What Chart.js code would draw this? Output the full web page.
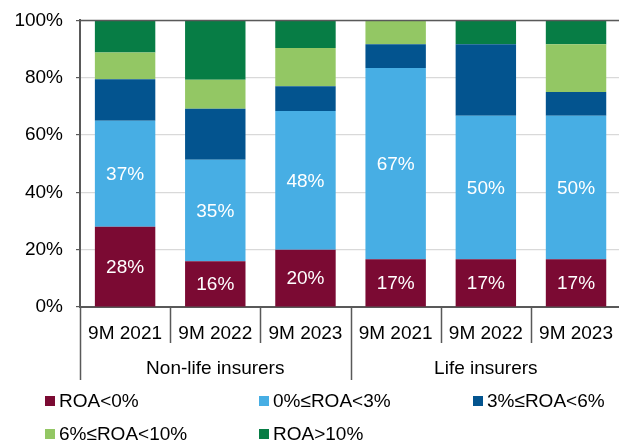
<!DOCTYPE html>
<html lang="en">
<head>
  <meta charset="UTF-8">
  <title>ROA distribution of insurers</title>
  <script src="https://cdn.jsdelivr.net/npm/chart.js"></script>
  <style>
    html, body {
      margin: 0;
      padding: 0;
      overflow: hidden;
      background: #fff;
      font-family: "Liberation Sans", Arial, sans-serif;
    }
    #wrap {
      position: relative;
      width: 628px;
      height: 442px;
    }
    #chartBox {
      position: absolute;
      left: 0;
      top: -4px;
      width: 628px;
      height: 389px;
    }
    #legend {
      position: absolute;
      left: 45px;
      top: 384px;
      display: grid;
      grid-template-columns: 214px 214px auto;
      grid-auto-rows: 33px;
      font-size: 19px;
      line-height: 1;
      color: #000;
    }
    #legend span.item {
      display: flex;
      align-items: center;
      white-space: nowrap;
    }
    #legend span.box {
      display: inline-block;
      width: 10px;
      height: 10px;
      margin-right: 4px;
    }
  </style>
</head>

<body>
  <div id="wrap">
    <div id="chartBox"><canvas id="roaChart"></canvas></div>
    <div id="legend"></div>
  </div>

  <script>
    // categories and groups
    const periods = ['9M 2021', '9M 2022', '9M 2023', '9M 2021', '9M 2022', '9M 2023'];
    const groups = ['Non-life insurers', 'Life insurers'];

    // share of insurers per ROA bucket (%)
    const roaNegative = [28, 16, 20, 16.7, 16.7, 16.7];
    const roa0to3 = [37, 35.4, 48.4, 66.7, 50, 50];
    const roa3to6 = [14.5, 17.8, 8.6, 8.3, 25, 8.3];
    const roa6to10 = [9.3, 10.1, 13.4, 8.3, 0, 16.7];
    const roaAbove10 = [11.2, 20.7, 9.6, 0, 8.3, 8.3];

    const yTicks = [0, 20, 40, 60, 80, 100];

    const series = [
      { label: 'ROA<0%', data: roaNegative, color: '#7b0a33', showValue: true },
      { label: '0%≤ROA<3%', data: roa0to3, color: '#47aee4', showValue: true },
      { label: '3%≤ROA<6%', data: roa3to6, color: '#03548f', showValue: false },
      { label: '6%≤ROA<10%', data: roa6to10, color: '#93c764', showValue: false },
      { label: 'ROA>10%', data: roaAbove10, color: '#077d45', showValue: false }
    ];

    const FONT = '"Liberation Sans", Arial, sans-serif';
    const AXIS = '#595959';

    // white % labels inside the first two segments
    const valueLabels = {
      id: 'valueLabels',
      afterDatasetsDraw(chart) {
        const ctx = chart.ctx;
        ctx.save();
        ctx.font = '19px ' + FONT;
        ctx.fillStyle = '#fff';
        ctx.textAlign = 'center';
        ctx.textBaseline = 'middle';
        series.forEach((s, i) => {
          if (!s.showValue) return;
          chart.getDatasetMeta(i).data.forEach((bar, j) => {
            ctx.fillText(Math.round(s.data[j]) + '%', bar.x, (bar.y + bar.base) / 2 + 1);
          });
        });
        ctx.restore();
      }
    };

    // category separators, group labels, top border
    const groupAxis = {
      id: 'groupAxis',
      afterDraw(chart) {
        const ctx = chart.ctx;
        const area = chart.chartArea;
        const step = (area.right - area.left) / periods.length;
        ctx.save();
        ctx.strokeStyle = AXIS;
        ctx.lineWidth = 1.5;
        ctx.beginPath();
        ctx.moveTo(area.left, area.top);
        ctx.lineTo(area.right, area.top);
        for (let i = 0; i <= periods.length; i++) {
          const px = Math.round(area.left + i * step) + 0.5;
          const long = i % 3 === 0;
          ctx.moveTo(px, area.bottom);
          ctx.lineTo(px, area.bottom + (long ? 73 : 36));
        }
        ctx.stroke();

        ctx.font = '19px ' + FONT;
        ctx.fillStyle = '#000';
        ctx.textAlign = 'center';
        ctx.textBaseline = 'middle';
        groups.forEach((g, k) => {
          const cx = area.left + (k * 3 + 1.5) * step;
          ctx.fillText(g, cx, area.bottom + 62);
        });
        ctx.restore();
      }
    };

    new Chart(document.getElementById('roaChart'), {
      type: 'bar',
      data: {
        labels: periods,
        datasets: series.map(s => ({
          label: s.label,
          data: s.data,
          backgroundColor: s.color,
          borderWidth: 0,
          barPercentage: 0.67,
          categoryPercentage: 1
        }))
      },
      options: {
        responsive: true,
        maintainAspectRatio: false,
        animation: false,
        layout: { padding: { top: 16, left: 0, right: 0, bottom: 0 } },
        plugins: {
          legend: { display: false },
          tooltip: { enabled: false }
        },
        scales: {
          x: {
            stacked: true,
            grid: { display: false, drawTicks: false },
            border: { display: true, color: AXIS, width: 2 },
            ticks: {
              color: '#000',
              font: { family: FONT, size: 19 },
              padding: 15,
              maxRotation: 0,
              autoSkip: false
            },
            afterFit(scale) { scale.height = 78; }
          },
          y: {
            stacked: true,
            min: 0,
            max: 100,
            afterBuildTicks(scale) { scale.ticks = yTicks.map(v => ({ value: v })); },
            grid: { color: '#d9d9d9', tickColor: AXIS, tickLength: 4, lineWidth: 1.2 },
            border: { display: true, color: AXIS, width: 2 },
            ticks: {
              color: '#000',
              font: { family: FONT, size: 19 },
              padding: 13,
              callback: v => v + '%'
            },
            afterFit(scale) { scale.width = 80; }
          }
        }
      },
      plugins: [valueLabels, groupAxis]
    });

    // legend laid out in three columns like the original
    const legend = document.getElementById('legend');
    series.forEach(s => {
      const item = document.createElement('span');
      item.className = 'item';
      const box = document.createElement('span');
      box.className = 'box';
      box.style.background = s.color;
      item.appendChild(box);
      item.appendChild(document.createTextNode(s.label));
      legend.appendChild(item);
    });
  </script>
</body>
</html>
